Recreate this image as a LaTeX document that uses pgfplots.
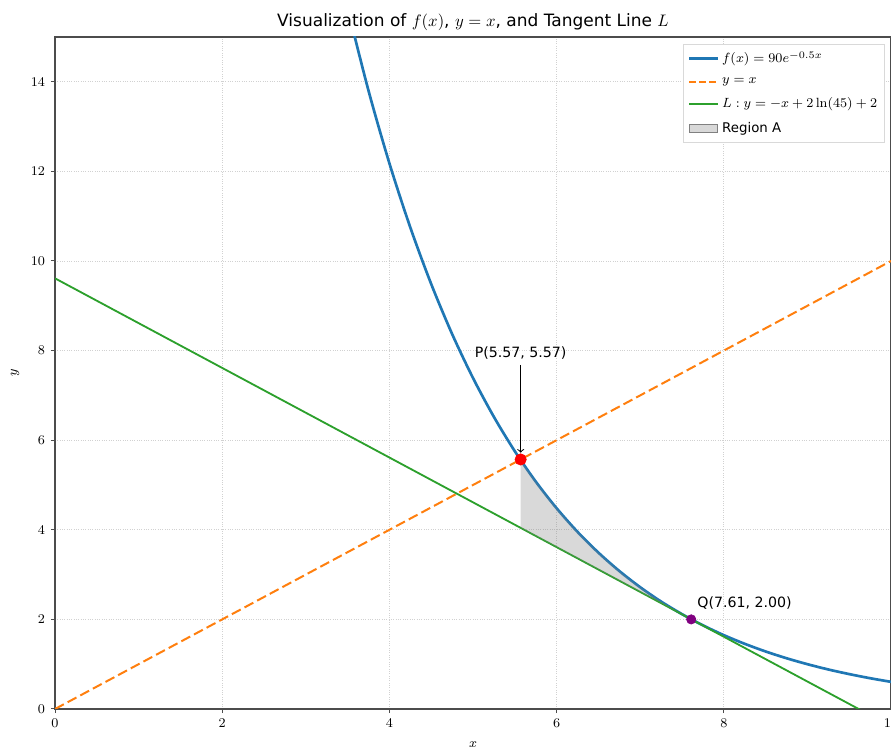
\documentclass[border=0pt]{standalone}
\usepackage{pgfplots}
\pgfplotsset{compat=1.18}
\usepackage[no-math]{fontspec}
\setmainfont{DejaVu Sans}
\definecolor{mplblue}{HTML}{1F77B4}
\definecolor{mplorange}{HTML}{FF7F0E}
\definecolor{mplgreen}{HTML}{2CA02C}
\definecolor{mplpurple}{HTML}{800080}
\begin{document}
\begin{tikzpicture}
\begin{axis}[
  scale only axis, width=501.6pt, height=403.2pt,
  xmin=0, xmax=10, ymin=0, ymax=15,
  xtick={0,2,4,6,8,10}, ytick={0,2,4,6,8,10,12,14},
  tick align=outside, xtick pos=bottom, ytick pos=left,
  major tick length=2.5pt,
  tick style={black!70, line width=0.6pt},
  axis line style={black!70, line width=0.7pt},
  grid=major, grid style={densely dotted, black!18, line width=0.4pt},
  tick label style={font=\fontsize{8.5}{10}\selectfont},
  title={Visualization of $f(x)$, $y=x$, and Tangent Line $L$},
  title style={font=\fontsize{10.2}{12}\selectfont, yshift=-6pt},
  xlabel={$x$}, ylabel={$y$},
  xlabel style={yshift=-1.5pt},
  label style={font=\fontsize{8.5}{10}\selectfont},
  legend style={at={(1,1)}, anchor=north east, xshift=-3.6pt, yshift=-4.2pt,
    draw=black!15, font=\fontsize{8}{10}\selectfont,
    row sep=3.2pt, inner sep=2.5pt},
  legend cell align=left,
]
\addlegendimage{mplblue, line width=1.6pt}
\addlegendentry{$f(x) = 90e^{-0.5x}$}
\addlegendimage{mplorange, line width=1.2pt, dash pattern=on 4pt off 2pt}
\addlegendentry{$y = x$}
\addlegendimage{mplgreen, line width=1.1pt}
\addlegendentry{$L: y = -x + 2\ln(45) + 2$}
\addlegendimage{legend image code/.code={\fill[gray, fill opacity=0.3] (0cm,-0.09cm) rectangle (0.6cm,0.09cm);}}
\addlegendentry{Region A}
\addplot[mplblue, line width=1.6pt, smooth, forget plot] coordinates {
(3.5,15.640) (3.75,13.802) (4,12.180) (4.25,10.749) (4.5,9.486) (4.75,8.371)
(5,7.388) (5.25,6.520) (5.5,5.754) (5.75,5.077) (6,4.481) (6.25,3.954)
(6.5,3.490) (6.75,3.080) (7,2.718) (7.25,2.398) (7.5,2.117) (7.75,1.868)
(8,1.648) (8.25,1.455) (8.5,1.284) (8.75,1.133) (9,1.000) (9.25,0.882)
(9.5,0.779) (9.75,0.687) (10,0.606)};
\addplot[mplorange, line width=1.2pt, dash pattern=on 6pt off 2.6pt, forget plot] coordinates {(0,0) (10,10)};
\addplot[mplgreen, line width=1.1pt, forget plot] coordinates {(0,9.613) (10,-0.387)};
\addplot[draw=none, fill=gray, fill opacity=0.3, forget plot] coordinates {
(5.57,5.556) (5.66,5.311) (5.75,5.077) (5.875,4.770) (6,4.481) (6.125,4.209)
(6.25,3.954) (6.375,3.715) (6.5,3.490) (6.625,3.278) (6.75,3.080) (6.875,2.893)
(7,2.718) (7.125,2.553) (7.25,2.398) (7.375,2.253) (7.5,2.117) (7.61,2.003)
(5.57,4.043)} -- cycle;
\addplot[only marks, mark=*, mark size=3.4pt, red, forget plot] coordinates {(5.57,5.57)};
\addplot[only marks, mark=*, mark size=2.8pt, mplpurple, forget plot] coordinates {(7.61,2.00)};
\node[font=\fontsize{8.5}{10}\selectfont, anchor=base] at (axis cs:5.57,7.85) {P(5.57, 5.57)};
\draw[->, black, line width=0.6pt] (axis cs:5.57,7.68) -- (axis cs:5.57,5.72);
\node[font=\fontsize{8.5}{10}\selectfont, anchor=base west, inner sep=0pt] at (axis cs:7.68,2.26) {Q(7.61, 2.00)};
\end{axis}
\pgfresetboundingbox
\path[use as bounding box] ([xshift=-33pt,yshift=-22.8pt]current axis.south west) rectangle ([yshift=22.2pt]current axis.north east);
\end{tikzpicture}
\end{document}
